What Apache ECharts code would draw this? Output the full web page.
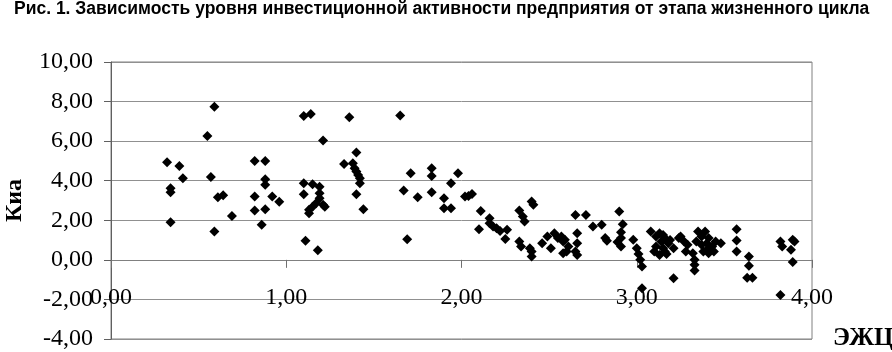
<!DOCTYPE html>
<html><head><meta charset="utf-8">
<script src="https://cdn.jsdelivr.net/npm/echarts@6/dist/echarts.min.js"></script>
<style>html,body{margin:0;padding:0;background:#fff}#c{width:892px;height:352px}</style>
</head><body><div id="c"></div>
<script>
const titleText = 'Рис. 1. Зависимость уровня инвестиционной активности предприятия от этапа жизненного цикла';
const xAxisName = 'ЭЖЦ';
const yAxisName = 'Киа';
const xRange = [0, 4, 1];
const yRange = [-4, 10, 2];
// ЭЖЦ (stage of life cycle)
const stageValues = [
0.32,0.34,0.34,0.34,0.39,0.41,0.55,0.57,0.59,0.59,0.61,0.64,0.69,0.82,0.82,0.82,0.86,0.88,0.88,0.88,
0.88,0.92,0.96,1.10,1.14,1.10,1.15,1.19,1.10,1.19,1.19,1.17,1.15,1.13,1.13,1.21,1.22,1.11,1.18,1.21,
1.36,1.33,1.38,1.40,1.39,1.40,1.41,1.42,1.42,1.40,1.44,1.65,1.71,1.67,1.69,1.75,1.83,1.83,1.83,1.90,
1.90,1.94,1.94,1.98,2.02,2.04,2.06,2.10,2.11,2.16,2.16,2.18,2.20,2.22,2.26,2.25,2.33,2.35,2.36,2.40,
2.41,2.33,2.34,2.39,2.40,2.40,2.46,2.49,2.53,2.55,2.58,2.51,2.58,2.61,2.59,2.60,2.57,2.65,2.71,2.66,
2.66,2.66,2.65,2.75,2.80,2.82,2.83,2.90,2.92,2.91,2.91,2.89,2.91,2.98,3.00,3.01,3.02,3.03,3.03,3.08,
3.11,3.13,3.15,3.16,3.14,3.11,3.10,3.13,3.16,3.18,3.15,3.17,3.19,3.21,3.24,3.25,3.27,3.29,3.28,3.21,
3.32,3.33,3.33,3.33,3.34,3.35,3.39,3.37,3.41,3.40,3.37,3.43,3.41,3.44,3.48,3.38,3.45,3.40,3.57,3.57,
3.57,3.64,3.64,3.63,3.66,3.82,3.83,3.89,3.90,3.88,3.89,3.82
];
// Киа (investment activity)
const activityValues = [
4.93,3.62,3.42,1.90,4.75,4.12,6.26,4.19,7.74,1.43,3.17,3.27,2.22,5.00,3.20,2.49,1.77,5.00,4.07,3.79,
2.56,3.20,2.94,7.27,7.37,3.87,3.82,3.70,3.32,3.37,3.12,2.86,2.69,2.53,2.36,2.78,2.69,0.96,0.49,6.03,
7.21,4.85,4.88,5.42,4.63,4.46,4.29,4.12,3.87,3.32,2.56,7.29,4.38,3.50,1.04,3.17,4.63,4.24,3.42,3.12,
2.61,2.61,3.87,4.38,3.20,3.23,3.33,1.55,2.47,2.10,1.85,1.68,1.60,1.46,1.52,1.05,2.49,2.19,1.94,2.95,
2.78,0.93,0.67,0.59,0.42,0.17,0.84,1.18,1.35,1.10,0.93,0.59,0.34,0.67,1.01,0.42,1.18,2.27,2.27,1.35,
0.84,0.25,0.42,1.68,1.77,1.10,0.96,2.44,1.80,1.40,1.10,0.90,0.67,1.01,0.59,0.30,0.00,-0.34,-1.43,1.43,
1.18,1.35,1.26,1.10,0.93,0.67,0.42,0.25,0.42,0.84,0.59,0.30,1.00,-0.93,1.10,1.18,0.93,0.76,0.42,0.59,
0.34,0.00,-0.25,-0.54,0.93,1.43,1.43,1.18,1.10,0.84,0.76,0.67,0.34,0.42,0.84,0.42,0.93,0.51,1.55,0.98,
0.42,0.17,-0.30,-0.90,-0.90,0.93,0.67,1.01,0.93,0.51,-0.11,-1.77
];

const points = stageValues.map((x, i) => [x, activityValues[i]]);
const fmt = v => v.toFixed(2).replace('.', ',');
const serif = '"Liberation Serif", "Times New Roman", serif';
const gridTop = 62, gridBottom = 13, chartH = 352;
const plotH = chartH - gridTop - gridBottom;
// shift x axis from the bottom (y = min) up to y = 0
const zeroOffset = -plotH * (0 - yRange[0]) / (yRange[1] - yRange[0]);

const chart = echarts.init(document.getElementById('c'), null, {renderer: 'canvas'});
chart.setOption({
  animation: false,
  backgroundColor: '#fff',
  title: {
    text: titleText, left: 14, top: 0, padding: 0,
    textStyle: {fontFamily: '"Liberation Sans", Arial, sans-serif', fontWeight: 'bold', fontSize: 17.5, color: '#000'}
  },
  grid: {left: 111, right: 80, top: gridTop, bottom: gridBottom, show: true, borderColor: '#808080', borderWidth: 1,
         containLabel: false, outerBoundsMode: 'none'},
  xAxis: {
    type: 'value', min: xRange[0], max: xRange[1], interval: xRange[2],
    position: 'bottom', offset: zeroOffset,
    axisLine: {show: true, onZero: false, lineStyle: {color: '#808080', width: 1}},
    axisTick: {show: true, length: 8, lineStyle: {color: '#707070'}},
    splitLine: {show: false},
    axisLabel: {formatter: fmt, margin: 26, fontFamily: serif, fontSize: 24, color: '#000'}
  },
  yAxis: {
    type: 'value', min: yRange[0], max: yRange[1], interval: yRange[2],
    name: yAxisName, nameLocation: 'middle', nameRotate: 90, nameGap: 84,
    nameTextStyle: {fontFamily: serif, fontWeight: 'bold', fontSize: 24, color: '#000'},
    axisLine: {show: true, lineStyle: {color: '#606060', width: 1}},
    axisTick: {show: true, length: 7, lineStyle: {color: '#606060'}},
    splitLine: {show: true, lineStyle: {color: '#909090', width: 1}},
    axisLabel: {formatter: fmt, margin: 18, fontFamily: serif, fontSize: 24, color: '#000'}
  },
  graphic: [{
    type: 'text', left: 833, top: 326,
    style: {text: xAxisName, font: 'bold 25px ' + serif, fill: '#000'}
  }],
  series: [{
    type: 'scatter', data: points, symbol: 'diamond', symbolSize: 10,
    itemStyle: {color: '#000', opacity: 1}
  }]
});
</script></body></html>
